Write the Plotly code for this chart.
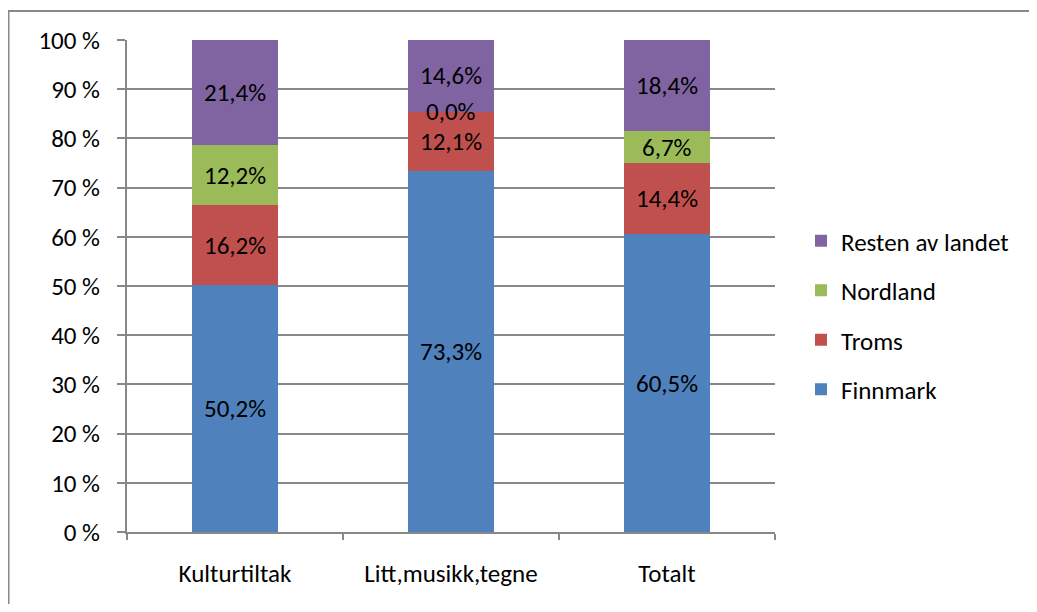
import plotly.graph_objects as go

categories = ["Kulturtiltak", "Litt,musikk,tegne", "Totalt"]
series_names = ["Finnmark", "Troms", "Nordland", "Resten av landet"]
finnmark = [50.2, 73.3, 60.5]
troms = [16.2, 12.1, 14.4]
nordland = [12.2, 0.0, 6.7]
resten = [21.4, 14.6, 18.4]
colors = ["#4F81BD", "#C0504D", "#9BBB59", "#8064A2"]
y_ticks = [0, 10, 20, 30, 40, 50, 60, 70, 80, 90, 100]
y_ticklabels = [f"{v} %" for v in y_ticks]

FONT = "Carlito, Lato, 'Open Sans', sans-serif"
FS = 25
all_series = [finnmark, troms, nordland, resten]

# page has an 8px body margin; plot area in page coords: x 127-775, y 40-532
L, T, W, H = 119, 32, 648, 492
FIG_W, FIG_H = 1021, 596

fig = go.Figure()
n = len(series_names)
for k, (name, vals, col) in enumerate(zip(series_names, all_series, colors)):
    fig.add_trace(go.Bar(
        x=categories, y=vals, name=name, marker=dict(color=col, line=dict(width=0)),
        legendgroup=name, legendrank=n - k,
    ))

annotations = []
base = [0.0] * len(categories)
for vals in all_series:
    for i, v in enumerate(vals):
        annotations.append(dict(
            x=categories[i], y=base[i] + v / 2, xref="x", yref="y",
            text=f"{v:.1f}%".replace(".", ","), showarrow=False,
            font=dict(family=FONT, size=FS, color="#000000"),
        ))
        base[i] += v

def px(x):
    return (x - L) / W

def py(y):
    return (T + H - y) / H

fig.update_layout(
    barmode="stack",
    bargap=0.6,
    width=FIG_W, height=FIG_H,
    margin=dict(l=L, r=FIG_W - L - W, t=T, b=FIG_H - T - H),
    plot_bgcolor="white", paper_bgcolor="white",
    font=dict(family=FONT, size=FS, color="#000000"),
    showlegend=True,
    legend=dict(
        x=px(793), y=py(307), xanchor="left", yanchor="middle",
        traceorder="grouped", tracegroupgap=14,
        font=dict(family=FONT, size=FS, color="#000000"),
        itemwidth=30,
    ),
    annotations=annotations,
    shapes=[
        dict(type="line", xref="paper", yref="paper",
             x0=px(0), x1=px(FIG_W + 20),
             y0=py(3), y1=py(3),
             line=dict(color="#888888", width=2)),
        dict(type="line", xref="paper", yref="paper",
             x0=px(0.5), x1=px(0.5),
             y0=py(3), y1=py(FIG_H + 10),
             line=dict(color="#888888", width=2)),
    ],
)
fig.update_xaxes(
    showline=True, linecolor="#888888", linewidth=2,
    ticks="outside", tickson="boundaries", ticklen=6, tickcolor="#888888", tickwidth=2,
    showgrid=False, tickfont=dict(family=FONT, size=FS), ticklabelstandoff=18,
)
fig.update_yaxes(
    range=[0, 100], tickvals=y_ticks, ticktext=y_ticklabels,
    showline=True, linecolor="#888888", linewidth=2,
    ticks="outside", ticklen=8, tickcolor="#888888", tickwidth=2,
    showgrid=True, gridcolor="#888888", gridwidth=2,
    zeroline=False, tickfont=dict(family=FONT, size=FS), ticklabelstandoff=12,
)

fig.write_html("out.html")
